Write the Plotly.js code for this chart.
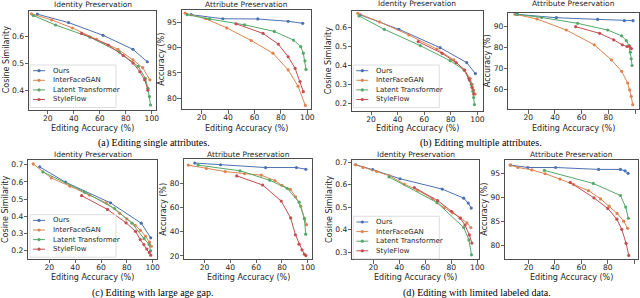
<!DOCTYPE html>
<html><head><meta charset="utf-8">
<script src="https://cdn.plot.ly/plotly-3.0.1.min.js"></script>
<style>html,body{margin:0;padding:0;background:#fff;}#chart{width:640px;height:298px;}</style>
</head><body><div id="chart"></div>
<script>
const methods = ["Ours", "InterFaceGAN", "Latent Transformer", "StyleFlow"];
const xTicks = [20, 40, 60, 80, 100];
const panelTitles = ["Identity Preservation", "Attribute Preservation"];
const xTitle = "Editing Accuracy (%)";
const yTitles = ["Cosine Similarity", "Accuracy (%)"];
const captions = ["(a) Editing single attributes.", "(b) Editing multiple attributes.",
                  "(c) Editing with large age gap.", "(d) Editing with limited labeled data."];

// (a) single attributes: [editing accuracy, value]
const aIdOurs = [[12,0.683],[36,0.652],[62.5,0.605],[85.5,0.553],[96.5,0.507]];
const aIdIfg  = [[7.5,0.684],[23,0.662],[39,0.632],[57.5,0.59],[74,0.553],[85.5,0.514],[93,0.485],[98.5,0.44]];
const aIdLt   = [[9,0.678],[26,0.643],[52.5,0.598],[75,0.543],[89.5,0.49],[95,0.446],[97,0.409],[98.2,0.378],[99,0.347]];
const aIdSf   = [[46,0.612],[66.5,0.569],[78,0.53],[85.5,0.502],[90.8,0.47],[94.5,0.44],[97,0.402]];
const aAtOurs = [[12,96.5],[36,95.7],[62.5,95.66],[85.5,95.2],[96.5,94.8]];
const aAtIfg  = [[7.5,96.8],[23,95.7],[39,93.9],[57.5,91.4],[74,88.9],[85.5,85.6],[93,82.4],[98.5,78.6]];
const aAtLt   = [[9,96.5],[26,95.66],[52.5,94.5],[75,93.2],[89.5,91.5],[95,90.2],[97,88.9],[98.2,87.4],[99,85.7]];
const aAtSf   = [[46,94.7],[66.5,92.8],[78,90.7],[85.5,88.2],[90.8,85.9],[94.5,83.3],[97,81.3]];

// (b) multiple attributes
const bIdOurs = [[12,0.667],[41,0.591],[72,0.494],[92,0.415],[98.5,0.357]];
const bIdIfg  = [[10,0.676],[26.5,0.63],[48.5,0.561],[69.5,0.487],[82.3,0.429],[90,0.376],[94.5,0.332],[96,0.3],[97.2,0.27],[98.3,0.249]];
const bIdLt   = [[11,0.662],[30,0.591],[57,0.505],[79.5,0.425],[90,0.376],[93.5,0.332],[95.5,0.3],[96.5,0.265],[97.2,0.23],[97.8,0.193]];
const bIdSf   = [[55.5,0.526],[73.5,0.464],[84,0.415],[90.5,0.376],[94,0.323],[96,0.284],[97.3,0.249]];
const bAtOurs = [[12,95.9],[41,94.3],[72,93.5],[92,92.9],[98.5,92.9]];
const bAtIfg  = [[10,96],[26.5,93.7],[48.5,88.4],[69.5,81.3],[82.3,74.1],[90,68.6],[94.5,63],[96,59.7],[97.2,56.6],[98.3,52.6]];
const bAtLt   = [[11,96],[30,94.4],[57,91.6],[79.5,88.4],[90,85.6],[93.5,83.3],[95.5,81],[96.5,77.8],[97.2,74.6],[97.8,71.4]];
const bAtSf   = [[55.5,90],[73.5,86.8],[84,83.7],[90.5,81.3],[94,80.5],[96,80.5],[97.3,79.5]];

// (c) large age gap
const cIdOurs = [[12.5,0.687],[32.5,0.598],[67.3,0.478],[91.2,0.36],[98.5,0.275]];
const cIdIfg  = [[7.5,0.704],[21.5,0.623],[36,0.575],[51,0.523],[64,0.478],[74.5,0.417],[80,0.385],[86.5,0.348],[90.5,0.318],[94.5,0.284],[97.5,0.25],[99,0.226]];
const cIdLt   = [[15,0.658],[47.5,0.54],[70.5,0.445],[84,0.36],[93.3,0.27],[97.3,0.237],[98.4,0.2]];
const cIdSf   = [[45,0.52],[65,0.44],[79.4,0.362],[86.7,0.313],[90.4,0.265],[93.2,0.236],[95.5,0.21],[97.4,0.19],[98.5,0.174]];
const cAtOurs = [[12.5,96.7],[32.5,95.3],[67.3,93],[91.2,93],[98.5,91.6]];
const cAtIfg  = [[7.5,95],[21.5,92.2],[36,89.7],[51,88],[64,86.7],[74.5,82.2],[80,78.3],[86.5,75],[90.5,68.9],[94.5,61.1],[97.5,50.8],[99,45.8]];
const cAtLt   = [[15,95],[47.5,90.3],[70.5,82.5],[84,75.8],[93.3,64.4],[97.3,50.8],[98.4,38]];
const cAtSf   = [[45,86.1],[65,78.6],[79.4,65.3],[86.7,51.4],[90.4,37.5],[93.2,29.7],[95.5,25],[97.4,21.4],[98.5,20.3]];

// (d) limited labeled data
const dIdOurs = [[6.5,0.688],[19.5,0.666],[40.5,0.626],[73,0.58],[89.5,0.54],[93,0.518],[95.3,0.496]];
const dIdIfg  = [[6,0.688],[12,0.676],[22.5,0.658],[32.6,0.639],[43.8,0.602],[54,0.575],[65.4,0.538],[74.5,0.497],[81,0.475],[87,0.453],[92,0.43],[95,0.41]];
const dIdLt   = [[32,0.634],[69,0.52],[89.5,0.41],[93.5,0.355],[95.5,0.289]];
const dIdSf   = [[51.5,0.587],[69.5,0.529],[80,0.482],[86.8,0.451],[90.5,0.421],[93.8,0.377],[95.8,0.341]];
const dAtOurs = [[6.5,96.7],[19.5,96.2],[40.5,96.2],[73,95.8],[89.5,95.8],[93,95.5],[95.3,95]];
const dAtIfg  = [[6,96.7],[12,96.2],[22.5,95.7],[32.6,94.9],[43.8,93.8],[54,92.7],[65.4,91.4],[74.5,89.7],[81,88.2],[87,86.7],[92,85.1],[95,83.6]];
const dAtLt   = [[32,95.6],[69,92.9],[89.5,90.4],[93.5,88],[95.5,85.7]];
const dAtSf   = [[51.5,93.1],[69.5,89.9],[80,87.7],[86.8,85.5],[90.5,83.4],[93.8,80.5],[95.8,78]];

// y tick labels per panel
const aIdTicks = [0.4, 0.5, 0.6];
const aAtTicks = [80, 85, 90, 95];
const bIdTicks = [0.2, 0.3, 0.4, 0.5, 0.6];
const bAtTicks = [60, 70, 80, 90];
const cIdTicks = [0.2, 0.3, 0.4, 0.5, 0.6, 0.7];
const cAtTicks = [20, 40, 60, 80];
const dIdTicks = [0.3, 0.4, 0.5, 0.6, 0.7];
const dAtTicks = [80, 85, 90, 95];

const colors = ["#4c72b0", "#dd8452", "#55a868", "#c44e52"];
const W = 640, H = 298;
const px = v => v / W, py = v => 1 - v / H;

// geometry (pixels) and axis ranges
const panels = [
  {series:[aIdOurs,aIdIfg,aIdLt,aIdSf], ticks:aIdTicks, fmt:".1f", L:29, R:156, T:10.7, B:110, xr:[5.6,103.2], yr:[0.3285,0.696], id:0, ytx:6, tty:4.3, xty:128.3, legend:{x:30, y:65}},
  {series:[aAtOurs,aAtIfg,aAtLt,aAtSf], ticks:aAtTicks, fmt:"d", L:181.7, R:311, T:10, B:109.3, xr:[4.85,102.8], yr:[77.83,97.43], id:1, ytx:162, tty:4.3, xty:128.3},
  {series:[bIdOurs,bIdIfg,bIdLt,bIdSf], ticks:bIdTicks, fmt:".1f", L:352, R:482.7, T:11, B:111, xr:[5.7,104], yr:[0.159,0.688], id:0, ytx:329.3, tty:4, xty:128.3, legend:{x:353.3, y:65}},
  {series:[bAtOurs,bAtIfg,bAtLt,bAtSf], ticks:bAtTicks, fmt:"d", L:508.3, R:639, T:12.5, B:109.3, xr:[5,103], yr:[50.4,96.8], id:1, ytx:488.3, tty:4, xty:128.3},
  {series:[cIdOurs,cIdIfg,cIdLt,cIdSf], ticks:cIdTicks, fmt:".1f", L:28.3, R:157.3, T:160, B:259, xr:[3.7,103.6], yr:[0.152,0.727], id:0, ytx:5.5, tty:154, xty:277.3, legend:{x:30, y:214.7}},
  {series:[cAtOurs,cAtIfg,cAtLt,cAtSf], ticks:cAtTicks, fmt:"d", L:184.3, R:311.7, T:159.3, B:259, xr:[4.4,103], yr:[17.5,99.8], id:1, ytx:162.7, tty:154, xty:277.8},
  {series:[dIdOurs,dIdIfg,dIdLt,dIdSf], ticks:dIdTicks, fmt:".1f", L:352.3, R:479.3, T:160, B:259.3, xr:[3.8,101.5], yr:[0.269,0.709], id:0, ytx:329.3, tty:154, xty:277.8, legend:{x:353.3, y:216.3}},
  {series:[dAtOurs,dAtIfg,dAtLt,dAtSf], ticks:dAtTicks, fmt:"d", L:505, R:638, T:160, B:259.3, xr:[2.2,102.8], yr:[77.2,97.75], id:1, ytx:485, tty:154, xty:277.8}
];

const captionPos = [{x:154, y:143}, {x:481, y:143}, {x:152, y:292.5}, {x:477, y:292.5}];

const FONT = "DejaVu Sans, sans-serif";
const TXT = "#262626";
const traces = [];
const layout = {
  width: W, height: H, margin: {l:0, r:0, t:0, b:0},
  paper_bgcolor: "#fff", plot_bgcolor: "#fff", showlegend: false,
  font: {family: FONT, size: 8, color: TXT},
  annotations: [], shapes: []
};

panels.forEach((p, i) => {
  const n = i + 1;
  const xa = "xaxis" + (n === 1 ? "" : n), ya = "yaxis" + (n === 1 ? "" : n);
  const xr = "x" + (n === 1 ? "" : n), yr = "y" + (n === 1 ? "" : n);
  const axCommon = {
    showline: true, mirror: true, linecolor: "#3a3a3a", linewidth: 0.9,
    ticks: "outside", ticklen: 3.5, tickwidth: 0.8, tickcolor: "#3a3a3a",
    showgrid: false, zeroline: false, fixedrange: true,
    tickfont: {family: FONT, size: 7.6, color: TXT}
  };
  layout[xa] = Object.assign({}, axCommon, {
    domain: [px(p.L), px(p.R)], range: p.xr, anchor: yr,
    tickmode: "array", tickvals: xTicks, ticktext: xTicks.map(String),
    ticklabelstandoff: -3
  });
  layout[ya] = Object.assign({}, axCommon, {
    domain: [py(p.B), py(p.T)], range: p.yr, anchor: xr,
    tickmode: "array", tickvals: p.ticks, tickformat: p.fmt,
    ticklabelstandoff: -1
  });
  p.series.forEach((s, m) => {
    traces.push({
      type: "scatter", mode: "lines+markers",
      x: s.map(d => d[0]), y: s.map(d => d[1]),
      xaxis: xr, yaxis: yr, name: methods[m],
      line: {color: colors[m], width: 1},
      marker: {color: colors[m], size: 3.2},
      hoverinfo: "skip"
    });
  });
  const cx = (p.L + p.R) / 2, cy = (p.T + p.B) / 2;
  layout.annotations.push({
    xref: "paper", yref: "paper", x: px(cx), y: py(p.tty), text: panelTitles[p.id],
    showarrow: false, xanchor: "center", yanchor: "middle", borderpad: 0,
    font: {family: FONT, size: 7.5, color: TXT}
  });
  layout.annotations.push({
    xref: "paper", yref: "paper", x: px(cx), y: py(p.xty), text: xTitle,
    showarrow: false, xanchor: "center", yanchor: "middle", borderpad: 0,
    font: {family: FONT, size: 8, color: TXT}
  });
  layout.annotations.push({
    xref: "paper", yref: "paper", x: px(p.ytx), y: py(cy), text: yTitles[p.id],
    showarrow: false, xanchor: "center", yanchor: "middle", textangle: -90, borderpad: 0,
    font: {family: FONT, size: 8, color: TXT}
  });
  if (p.legend) {
    const lx = p.legend.x, ly = p.legend.y, lw = 86, lh = 42.5;
    layout.shapes.push({
      type: "rect", xref: "paper", yref: "paper",
      x0: px(lx), x1: px(lx + lw), y0: py(ly + lh), y1: py(ly),
      line: {color: "#d6d6d6", width: 0.8}, fillcolor: "rgba(255,255,255,0.85)", layer: "above"
    });
    methods.forEach((name, m) => {
      const ey = ly + 5.7 + 9.6 * m;
      layout.shapes.push({
        type: "line", xref: "paper", yref: "paper",
        x0: px(lx + 3), x1: px(lx + 15), y0: py(ey), y1: py(ey),
        line: {color: colors[m], width: 1}, layer: "above"
      });
      layout.shapes.push({
        type: "circle", xref: "paper", yref: "paper", xsizemode: "pixel", ysizemode: "pixel",
        xanchor: px(lx + 9), yanchor: py(ey), x0: -1.6, x1: 1.6, y0: -1.6, y1: 1.6,
        line: {color: colors[m], width: 0}, fillcolor: colors[m], layer: "above"
      });
      layout.annotations.push({
        xref: "paper", yref: "paper", x: px(lx + 21.5), y: py(ey), text: name,
        showarrow: false, xanchor: "left", yanchor: "middle", borderpad: 0,
        font: {family: FONT, size: 7, color: TXT}
      });
    });
  }
});

captions.forEach((c, i) => {
  layout.annotations.push({
    xref: "paper", yref: "paper", x: px(captionPos[i].x), y: py(captionPos[i].y), text: c,
    showarrow: false, xanchor: "center", yanchor: "middle", borderpad: 0,
    font: {family: "Liberation Serif, Times New Roman, serif", size: 10, color: "#000"}
  });
});

Plotly.newPlot("chart", traces, layout, {displayModeBar: false, staticPlot: true});
</script>
</body></html>
